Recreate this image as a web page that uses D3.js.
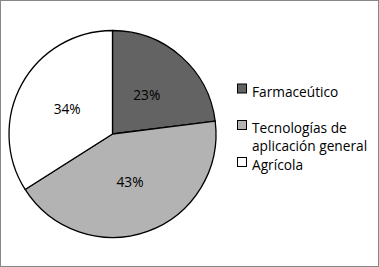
<!DOCTYPE html>
<html>
<head>
<meta charset="utf-8">
<script src="https://cdn.jsdelivr.net/npm/d3@7"></script>
<style>
  body { margin: 0; background: #fff; }
  text { font-family: "Open Sans", "Liberation Sans", sans-serif; }
</style>
</head>
<body>
<div id="viz"></div>
<script>
var width = 379;
var height = 267;
var radius = 103.5;
var cx = 112.5, cy = 134;

var categories = ['Farmaceútico', 'Tecnologías de aplicación general', 'Agrícola'];
var legendLines = [['Farmaceútico'], ['Tecnologías de', 'aplicación general'], ['Agrícola']];
var values = [23, 43, 34];
var colors = ['#636363', '#b3b3b3', '#ffffff'];

var svg = d3.select('#viz')
  .append('svg')
  .attr('width', width)
  .attr('height', height);

// outer frame
svg.append('rect')
  .attr('x', 0.5).attr('y', 0.5)
  .attr('width', width - 1).attr('height', height - 1)
  .attr('fill', '#fff')
  .attr('stroke', '#878787');

var pie = d3.pie().sort(null).value(d => d);
var arc = d3.arc().innerRadius(0).outerRadius(radius);

var g = svg.append('g').attr('transform', 'translate(' + cx + ',' + cy + ')');
var arcs = pie(values);

g.selectAll('path').data(arcs)
  .enter().append('path')
  .attr('d', arc)
  .attr('fill', (d, i) => colors[i])
  .attr('stroke', '#000')
  .attr('stroke-width', 1.3)
  .attr('stroke-linejoin', 'round');

g.selectAll('text').data(arcs)
  .enter().append('text')
  .attr('transform', d => 'translate(' + arc.centroid(d) + ')')
  .attr('text-anchor', 'middle')
  .attr('dy', '0.35em')
  .style('font-size', '13.7px')
  .attr('fill', '#000')
  .text(d => d.data + '%');

// legend: square centres, text baseline sits a bit lower
var legendY = [88.5, 125, 162];
var lg = svg.append('g');
legendLines.forEach(function(lines, i) {
  lg.append('rect')
    .attr('x', 237.5).attr('y', legendY[i] - 4.5)
    .attr('width', 9).attr('height', 9)
    .attr('fill', colors[i])
    .attr('stroke', '#000')
    .attr('stroke-width', 1);
  var t = lg.append('text')
    .attr('x', 252)
    .attr('y', legendY[i] + 8.3)
    .style('font-size', '13.7px')
    .attr('fill', '#000');
  lines.forEach(function(line, j) {
    t.append('tspan').attr('x', 252).attr('dy', j === 0 ? 0 : 17.5).text(line);
  });
});
</script>
</body>
</html>
